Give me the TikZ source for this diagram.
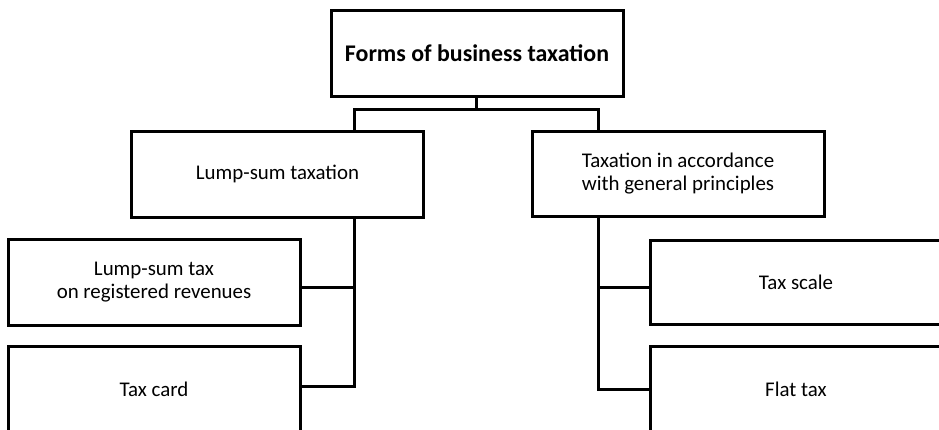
\documentclass[tikz,border=0pt]{standalone}
\usepackage{fontspec}
\setmainfont{Carlito}
\begin{document}
\begin{tikzpicture}[x=1pt,y=-1pt,
  box/.style={draw=black,line width=3pt,fill=white,minimum width=292pt,inner sep=0pt,align=center,font=\fontsize{20.9}{22.5}\selectfont},
  conn/.style={draw=black,line width=3pt,line join=miter,line cap=rect}]
\useasboundingbox (0,0) rectangle (939,429);
\clip (0,0) rectangle (939,429);
\node[box,minimum height=86pt,font=\fontsize{23.9}{26}\selectfont\bfseries] (top) at (477,53) {Forms of business taxation};
\node[box,minimum height=86pt] (lump) at (277.5,174) {Lump-sum taxation};
\node[box,minimum height=85pt] (gen) at (678,173.5) {Taxation in accordance\\with general principles};
\node[box,minimum height=86pt] (reg) at (154,282) {Lump-sum tax\\on registered revenues};
\node[box,minimum height=86pt] (card) at (154,389) {Tax card};
\node[box,minimum height=84pt] (scale) at (796,282) {Tax scale};
\node[box,minimum height=86pt] (flat) at (796,389) {Flat tax};
\coordinate (tj) at (476,109);
\coordinate (lj) at (354,109);
\coordinate (rj) at (598,109);
\coordinate (lb) at (354,386);
\coordinate (rb) at (598,389);
\draw[conn] (top.south -| tj) -- (tj);
\draw[conn] (lump.north -| lj) -- (lj) -- (rj) -- (gen.north -| rj);
\draw[conn] (lump.south -| lj) -- (lb) -- (card.east |- lb);
\draw[conn] (lj |- 0,287) -- (reg.east |- 0,287);
\draw[conn] (gen.south -| rj) -- (rb) -- (flat.west |- rb);
\draw[conn] (rj |- 0,287) -- (scale.west |- 0,287);
\end{tikzpicture}
\end{document}
